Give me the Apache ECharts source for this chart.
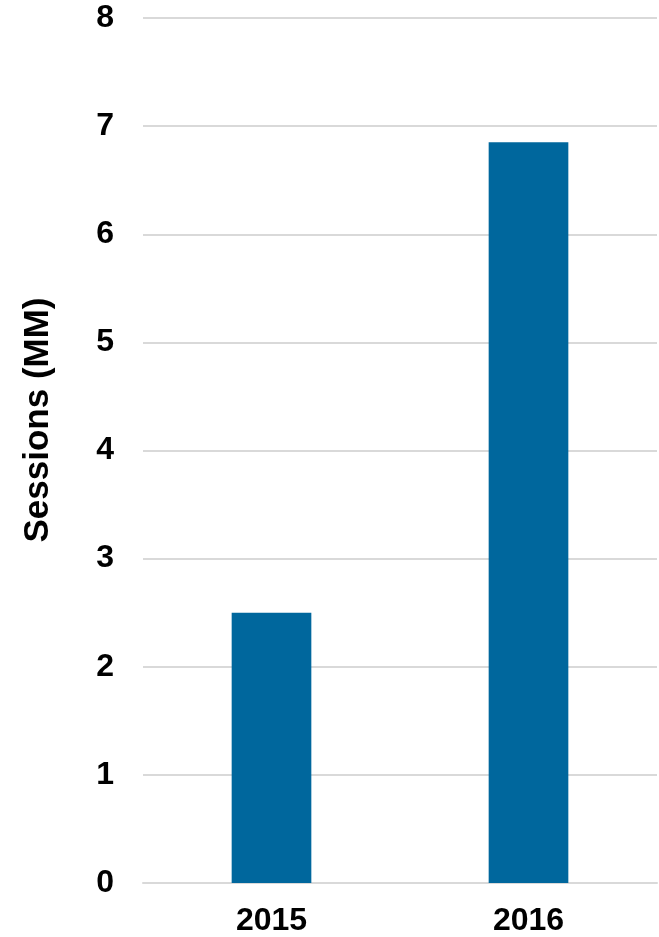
<!DOCTYPE html>
<html>
<head>
<meta charset="utf-8">
<script src="https://cdn.jsdelivr.net/npm/echarts@6/dist/echarts.min.js"></script>
<style>
html,body{margin:0;padding:0;background:#fff;}
#chart{width:659px;height:937px;}
</style>
</head>
<body>
<div id="chart"></div>
<script>
var categories = ['2015', '2016'];
var sessions = [2.5, 6.85];
var yTicks = [0, 1, 2, 3, 4, 5, 6, 7, 8];
var axisTitle = 'Sessions (MM)';

var chart = echarts.init(document.getElementById('chart'), null, {renderer: 'canvas'});
chart.setOption({
  animation: false,
  backgroundColor: '#ffffff',
  grid: {left: 143, right: 2, top: 18, bottom: 53, containLabel: false},
  xAxis: {
    type: 'category',
    data: categories,
    axisLine: {show: true, lineStyle: {color: '#d9d9d9', width: 2}},
    axisTick: {show: false},
    axisLabel: {color: '#000', fontSize: 32, fontWeight: 'bold', fontFamily: 'Liberation Sans, Arial, sans-serif', margin: 22}
  },
  yAxis: {
    type: 'value',
    min: yTicks[0],
    max: yTicks[yTicks.length - 1],
    interval: 1,
    axisLine: {show: false},
    axisTick: {show: false},
    splitLine: {lineStyle: {color: '#d9d9d9', width: 2}},
    axisLabel: {color: '#000', fontSize: 32, fontWeight: 'bold', fontFamily: 'Liberation Sans, Arial, sans-serif', margin: 29}
  },
  graphic: [{
    type: 'text',
    x: 38,
    y: 420,
    rotation: Math.PI / 2,
    style: {
      text: axisTitle,
      fill: '#000',
      fontSize: 35,
      fontWeight: 'bold',
      fontFamily: 'Liberation Sans, Arial, sans-serif',
      align: 'center',
      verticalAlign: 'middle'
    }
  }],
  series: [{
    type: 'bar',
    data: sessions,
    barWidth: '31%',
    itemStyle: {color: '#00679d'}
  }]
});
</script>
</body>
</html>
